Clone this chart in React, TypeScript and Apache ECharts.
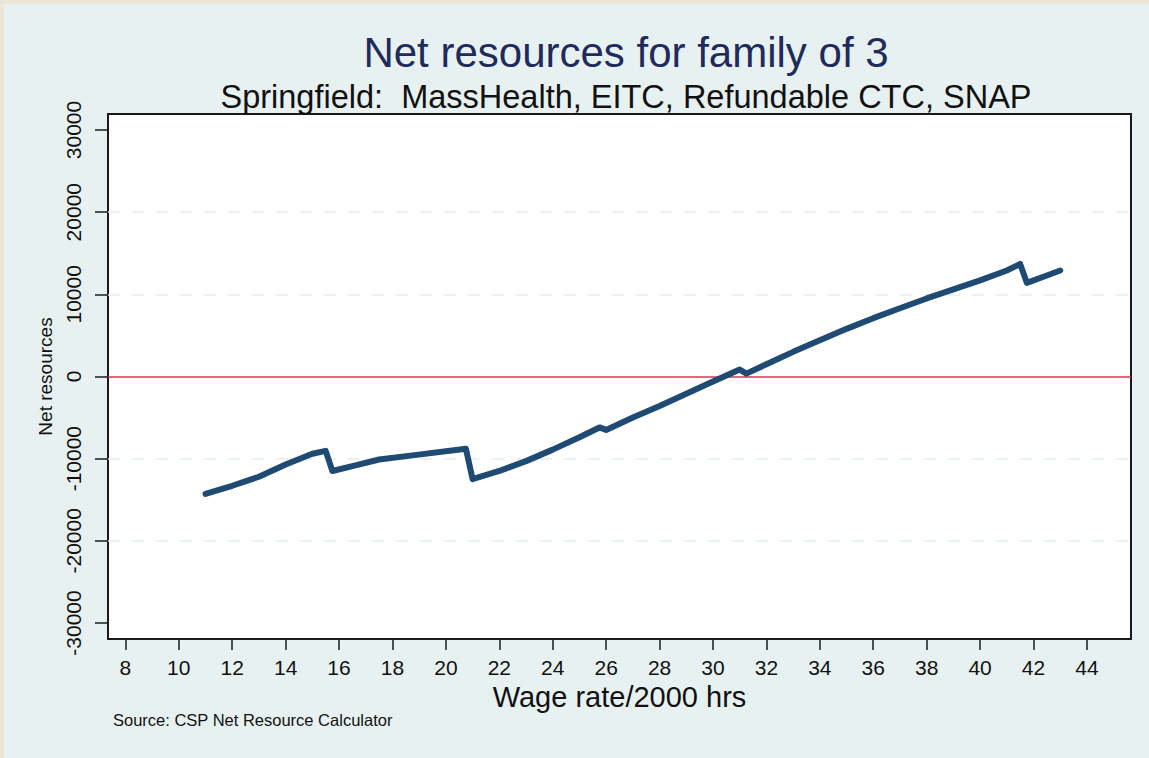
import React, { useEffect, useRef } from "react";
import * as echarts from "echarts";

const wages = [11, 12, 13, 14, 15, 15.5, 15.75, 16.5, 17.5, 18.75, 20.75, 21, 22, 23, 24, 25, 25.75, 26, 27, 28, 29, 30, 31, 31.25, 32, 33, 34, 35, 36, 37, 38, 39, 40, 41, 41.5, 41.75, 42.5, 43];
const netResources = [-14300, -13300, -12200, -10700, -9400, -9050, -11500, -10900, -10100, -9600, -8800, -12500, -11500, -10300, -8900, -7400, -6200, -6500, -5000, -3600, -2100, -600, 850, 350, 1500, 3000, 4400, 5800, 7100, 8300, 9500, 10600, 11700, 12900, 13700, 11400, 12300, 12900];
const xTicks = [8, 10, 12, 14, 16, 18, 20, 22, 24, 26, 28, 30, 32, 34, 36, 38, 40, 42, 44];
const yTicks = [-30000, -20000, -10000, 0, 10000, 20000, 30000];
const gridLines = [-20000, -10000, 10000, 20000];

const titleText = "Net resources for family of 3";
const subtitleText = "Springfield:  MassHealth, EITC, Refundable CTC, SNAP";
const sourceText = "Source: CSP Net Resource Calculator";
const xName = "Wage rate/2000 hrs";
const yName = "Net resources";

const FONT = "'Liberation Sans', Arial, Helvetica, sans-serif";

export default function App() {
  const ref = useRef<HTMLDivElement>(null);
  useEffect(() => {
    if (!ref.current) return;
    const chart = echarts.init(ref.current, null, { renderer: "svg" });
    const data = wages.map((w, i) => [w, netResources[i]]);
    chart.setOption({
      animation: false,
      backgroundColor: "#ede5da",
      textStyle: { fontFamily: FONT },
      graphic: [
        { type: "rect", z: -10, shape: { x: 4, y: 4, width: 1149, height: 758 }, style: { fill: "#e8f1f2" } },
        { type: "text", x: 626, y: 52, style: { text: titleText, fontSize: 42, fontFamily: FONT, fill: "#1f2b5b", textAlign: "center", textVerticalAlign: "middle" } },
        { type: "text", x: 626, y: 97, style: { text: subtitleText, fontSize: 32.5, fontFamily: FONT, fill: "#111", textAlign: "center", textVerticalAlign: "middle" } },
        { type: "text", x: 113, y: 720, style: { text: sourceText, fontSize: 16.5, fontFamily: FONT, fill: "#111", textAlign: "left", textVerticalAlign: "middle" } },
      ],
      grid: { left: 108, top: 114, right: 18, bottom: 119, show: true, backgroundColor: "#ffffff", borderColor: "#1a1a1a", borderWidth: 2 },
      xAxis: {
        type: "value",
        min: 7.35,
        max: 45.65,
        name: xName,
        nameLocation: "middle",
        nameGap: 33,
        nameTextStyle: { fontSize: 29, color: "#111", fontFamily: FONT },
        axisLine: { show: true, onZero: false, lineStyle: { color: "#1a1a1a", width: 2 } },
        axisTick: { show: true, length: 11, customValues: xTicks, lineStyle: { color: "#1a1a1a", width: 1.5 } },
        axisLabel: { customValues: xTicks, fontSize: 21, color: "#111", margin: 18, fontFamily: FONT },
        splitLine: { show: false },
      },
      yAxis: {
        type: "value",
        min: -31950,
        max: 31950,
        name: yName,
        nameLocation: "middle",
        nameGap: 47,
        nameRotate: 90,
        nameTextStyle: { fontSize: 19, color: "#111", fontFamily: FONT },
        axisLine: { show: true, onZero: false, lineStyle: { color: "#1a1a1a", width: 2 } },
        axisTick: { show: true, length: 13, customValues: yTicks, lineStyle: { color: "#1a1a1a", width: 1.5 } },
        axisLabel: { customValues: yTicks, fontSize: 21, color: "#111", rotate: 90, margin: 24, fontFamily: FONT, formatter: (v: number) => String(v) },
        splitLine: { show: false },
      },
      series: [
        {
          type: "line",
          data,
          showSymbol: false,
          symbol: "none",
          lineStyle: { color: "#1e4a73", width: 6, join: "round", cap: "round" },
          z: 5,
          markLine: {
            silent: true,
            symbol: "none",
            label: { show: false },
            data: [
              ...gridLines.map((v) => ({ yAxis: v, lineStyle: { color: "#e4edf1", width: 1.5, type: [12, 12] } })),
              { yAxis: 0, lineStyle: { color: "#d8354b", width: 1.5, type: "solid" } },
            ],
          },
        },
      ],
    });
    return () => chart.dispose();
  }, []);
  return <div ref={ref} style={{ position: "fixed", left: 0, top: 0, width: 1149, height: 758 }} />;
}
